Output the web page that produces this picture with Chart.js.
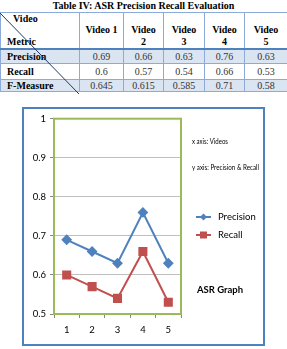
<!DOCTYPE html>
<html lang="en">
<head>
    <meta charset="UTF-8">
    <title>ASR Precision Recall</title>
    <script src="https://cdn.jsdelivr.net/npm/chart.js"></script>
    <style>
        body { margin: 0; background: #fff; width: 287px; height: 349px; position: relative; overflow: hidden; }
        #title { position: absolute; left: 0; top: 0; width: 287px; text-align: center; font: bold 10px 'Liberation Serif', serif; line-height: 12px; color: #000; }
        #tbl { position: absolute; left: 0; top: 12px; border-collapse: collapse; table-layout: fixed; width: 287px; color: #000; }
        #tbl td { font: 10px 'Liberation Serif', serif; border: 1px solid #8eaadb; padding: 0; text-align: center; vertical-align: middle; line-height: 11px; }
        #tbl td.lbl { text-align: left; padding-left: 6px; font-weight: bold; }
        #tbl td.val { color: #333; }
        #tbl tr.hdr td { font-weight: bold; vertical-align: top; height: 33px; line-height: 12px; border-bottom: 2px solid #4f81bd; }
        #tbl tr.shade td { background: #dbe5f1; }
        #diag { position: absolute; left: 0; top: 0; }
        #frame { position: absolute; left: 22px; top: 107px; width: 243px; height: 239px; box-sizing: border-box; border: 2px solid #4f81bd; }
        #myChart { position: absolute; left: 0; top: 0; }
    </style>
</head>
<body>
    <div id="title">Table IV: ASR Precision Recall Evaluation</div>
    <table id="tbl">
        <colgroup>
            <col style="width:79px"><col style="width:44px"><col style="width:40px">
            <col style="width:41px"><col style="width:40px"><col style="width:43px">
        </colgroup>
        <tbody id="tbody"></tbody>
    </table>
    <svg id="diag" width="287" height="100"><line x1="0" y1="13" x2="79" y2="94" stroke="#1f3864" stroke-width="1"/></svg>
    <div id="frame"><canvas id="myChart" width="239" height="235"></canvas></div>

    <script>
        // table + chart data
        const videos = ['1', '2', '3', '4', '5'];
        const headers = ['Video 1', 'Video<br>2', 'Video<br>3', 'Video<br>4', 'Video<br>5'];
        const precision = [0.69, 0.66, 0.63, 0.76, 0.63];
        const recall = [0.6, 0.57, 0.54, 0.66, 0.53];
        const fMeasure = ['0.645', '0.615', '0.585', '0.71', '0.58'];
        const yMin = 0.5, yMax = 1, yStep = 0.1;

        // build the table
        const tbody = document.getElementById('tbody');
        let html = '<tr class="hdr"><td style="text-align:left"><div style="padding-left:12px">Video</div>' +
                   '<div style="padding-left:6px;margin-top:11px">Metric</div></td>';
        headers.forEach(h => {
            html += '<td><div style="padding-top:11px">' + h + '</div></td>';
        });
        html += '</tr>';
        const rows = [
            ['Precision', precision, 'shade', 13],
            ['Recall', recall, '', 15],
            ['F-Measure', fMeasure, 'shade', 11]
        ];
        rows.forEach(r => {
            html += '<tr class="' + r[2] + '"><td class="lbl" style="height:' + r[3] + 'px">' + r[0] + '</td>';
            r[1].forEach(v => { html += '<td class="val">' + v + '</td>'; });
            html += '</tr>';
        });
        tbody.innerHTML = html;

        // plot frame + annotation text + legend
        const extras = {
            id: 'extras',
            beforeDatasetsDraw(chart) {
                const a = chart.chartArea, ctx = chart.ctx;
                ctx.save();
                ctx.strokeStyle = '#9bbb59';
                ctx.lineWidth = 2;
                ctx.strokeRect(a.left, a.top, a.right - a.left, a.bottom - a.top);
                ctx.restore();
            },
            afterDraw(chart) {
                const ctx = chart.ctx;
                ctx.save();
                ctx.fillStyle = '#000';
                ctx.textBaseline = 'middle';
                ctx.font = '8px Lato';
                ctx.fillText('x axis: Videos', 168, 32, 36);
                ctx.fillText('y axis: Precision & Recall', 168, 58, 67);

                ctx.font = '9.5px Lato';
                chart.data.datasets.forEach((ds, i) => {
                    const y = 108 + i * 18;
                    ctx.strokeStyle = ds.borderColor;
                    ctx.lineWidth = 2;
                    ctx.beginPath();
                    ctx.moveTo(172, y); ctx.lineTo(187, y);
                    ctx.stroke();
                    ctx.fillStyle = ds.borderColor;
                    ctx.beginPath();
                    if (ds.pointStyle === 'rectRot') {
                        ctx.moveTo(179.5 - 3.5, y); ctx.lineTo(179.5, y - 3.5);
                        ctx.lineTo(179.5 + 3.5, y); ctx.lineTo(179.5, y + 3.5);
                    } else {
                        ctx.rect(176, y - 3.5, 7, 7);
                    }
                    ctx.fill();
                    ctx.fillStyle = '#000';
                    ctx.fillText(ds.label, 194, y);
                });

                ctx.font = 'bold 9.5px Lato';
                ctx.fillText('ASR Graph', 173, 181);
                ctx.restore();
            }
        };

        const ctx = document.getElementById('myChart').getContext('2d');
        const myChart = new Chart(ctx, {
            type: 'line',
            data: {
                labels: videos,
                datasets: [{
                    label: 'Precision',
                    data: precision,
                    borderColor: '#4f81bd',
                    backgroundColor: '#4f81bd',
                    borderWidth: 2,
                    pointStyle: 'rectRot',
                    pointRadius: 4,
                    tension: 0
                }, {
                    label: 'Recall',
                    data: recall,
                    borderColor: '#c0504d',
                    backgroundColor: '#c0504d',
                    borderWidth: 2,
                    pointStyle: 'rect',
                    pointRadius: 5,
                    tension: 0
                }]
            },
            options: {
                responsive: false,
                animation: false,
                layout: { padding: { left: 0, right: 82, top: 9, bottom: 0 } },
                plugins: { legend: { display: false }, tooltip: { enabled: false } },
                scales: {
                    x: {
                        offset: true,
                        afterFit: s => { s.height = 30; },
                        grid: { offset: true, drawOnChartArea: false, tickLength: 4, color: '#868686' },
                        border: { color: '#9bbb59' },
                        ticks: { color: '#000', font: { family: 'Lato', size: 9.5 }, padding: 6 }
                    },
                    y: {
                        min: yMin,
                        max: yMax,
                        afterFit: s => { s.width = 30; },
                        grid: { color: '#bfbfbf', tickLength: 4, tickColor: '#868686' },
                        border: { color: '#9bbb59' },
                        ticks: {
                            stepSize: yStep, color: '#000', font: { family: 'Lato', size: 9.5 }, padding: 4,
                            callback: v => String(+v.toFixed(1))
                        }
                    }
                }
            },
            plugins: [extras]
        });
    </script>
</body>
</html>
